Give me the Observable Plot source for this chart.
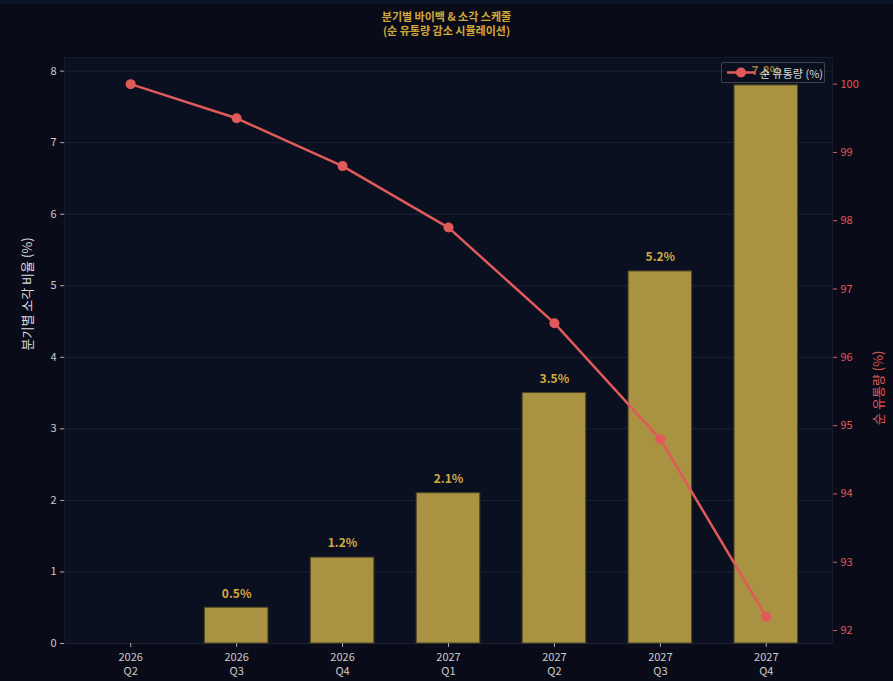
<!DOCTYPE html>
<html>
<head>
<meta charset="utf-8">
<script src="https://cdn.jsdelivr.net/npm/d3@7"></script>
<script src="https://cdn.jsdelivr.net/npm/@observablehq/plot@0.6"></script>
<style>
  html, body { margin: 0; padding: 0; background: #0a0b18; }
  #wrap { position: relative; width: 893px; height: 681px; background: #0a0b18; font-family: "Noto Sans CJK KR", "Noto Sans", sans-serif; overflow: hidden; }
  #stripe { position: absolute; left: 0; top: 0; width: 893px; height: 4px; background: #0b1526; }
  #title { height: 44px; box-sizing: border-box; padding-top: 9px; text-align: center; color: #d4a838; font-weight: bold; font-size: 11px; line-height: 14px; }
  #legend { position: absolute; left: 721px; top: 62px; width: 104px; height: 21px; box-sizing: border-box; border: 1px solid rgba(110,110,110,0.55); border-radius: 2px; background: rgba(10,14,28,0.3); display: flex; align-items: center; color: #d8d8d8; font-size: 11px; }
  svg { display: block; }
</style>
</head>
<body>
<div id="wrap">
  <div id="stripe"></div>
  <div id="title">분기별 바이백 &amp; 소각 스케줄<br>(순 유통량 감소 시뮬레이션)</div>
  <div id="chart"></div>
  <div id="legend">
    <svg width="34" height="19" style="margin-left:2px"><line x1="3" x2="31" y1="9.5" y2="9.5" stroke="#e05a5a" stroke-width="2.5"/><circle cx="17" cy="9.5" r="5" fill="#e05a5a"/></svg>
    <span style="margin-left:2px">순 유통량 (%)</span>
  </div>
</div>
<script>
const quarters = ["2026\nQ2", "2026\nQ3", "2026\nQ4", "2027\nQ1", "2027\nQ2", "2027\nQ3", "2027\nQ4"];
const burnRate = [0, 0.5, 1.2, 2.1, 3.5, 5.2, 7.8];
const circulating = [100, 99.5, 98.8, 97.9, 96.5, 94.8, 92.2];
const leftTicks = [0, 1, 2, 3, 4, 5, 6, 7, 8];
const rightTicks = [92, 93, 94, 95, 96, 97, 98, 99, 100];

const leftDomain = [0, 8.19];
const rightDomain = [91.81, 100.39];
const toLeft = d3.scaleLinear().domain(rightDomain).range(leftDomain);

const bars = quarters.map((q, i) => ({q, v: burnRate[i]}));
const line = quarters.map((q, i) => ({q, v: circulating[i], y: toLeft(circulating[i])}));
const labeled = bars.filter(d => d.v > 0);

const font = "Noto Sans CJK KR, Noto Sans, sans-serif";

const chart = Plot.plot({
  width: 893,
  height: 637,
  marginTop: 13,
  marginBottom: 38,
  marginLeft: 64,
  marginRight: 61,
  style: {background: "transparent", fontFamily: font, fontSize: "11px", color: "#cccccc"},
  x: {type: "band", domain: quarters, paddingInner: 0.4, paddingOuter: 0.325, round: false, label: null},
  y: {domain: leftDomain, label: null},
  marks: [
    Plot.frame({fill: "#0a1020", stroke: "#151a28"}),
    Plot.gridY(leftTicks, {stroke: "#1a2234", strokeOpacity: 1, strokeWidth: 1}),
    Plot.barY(bars, {x: "q", y: "v", fill: "#a99342", stroke: "#4e4220", strokeWidth: 1}),
    Plot.text(labeled, {x: "q", y: "v", text: d => d.v.toFixed(1) + "%", dy: -14, fill: "#d4aa3f", fontWeight: "bold", fontSize: 12}),
    Plot.line(line, {x: "q", y: "y", stroke: "#e05a5a", strokeWidth: 2.5}),
    Plot.dot(line, {x: "q", y: "y", r: 5, fill: "#e05a5a", stroke: "none"}),
    Plot.axisY(leftTicks, {anchor: "left", tickSize: 4, tickPadding: 4, stroke: "#aaaaaa", fill: "#cccccc", label: null, fontSize: 11, tickFormat: v => String(v)}),
    Plot.axisY(rightTicks.map(t => toLeft(t)), {anchor: "right", tickSize: 4, tickPadding: 4, stroke: "#e05a5a", fill: "#e05a5a", label: null, fontSize: 11, tickFormat: v => String(Math.round(toLeft.invert(v)))}),
    Plot.axisX(quarters, {anchor: "bottom", tickSize: 4, tickPadding: 4, stroke: "#aaaaaa", fill: "#cccccc", label: null, fontSize: 11, lineHeight: 1.25}),
    Plot.text(["분기별 소각 비율 (%)"], {frameAnchor: "left", dx: -37, rotate: -90, fill: "#dddddd", fontSize: 13}),
    Plot.text(["순 유통량 (%)"], {frameAnchor: "right", dx: 46, rotate: -90, fill: "#e05a5a", fontSize: 13})
  ]
});
document.getElementById("chart").appendChild(chart);
</script>
</body>
</html>
